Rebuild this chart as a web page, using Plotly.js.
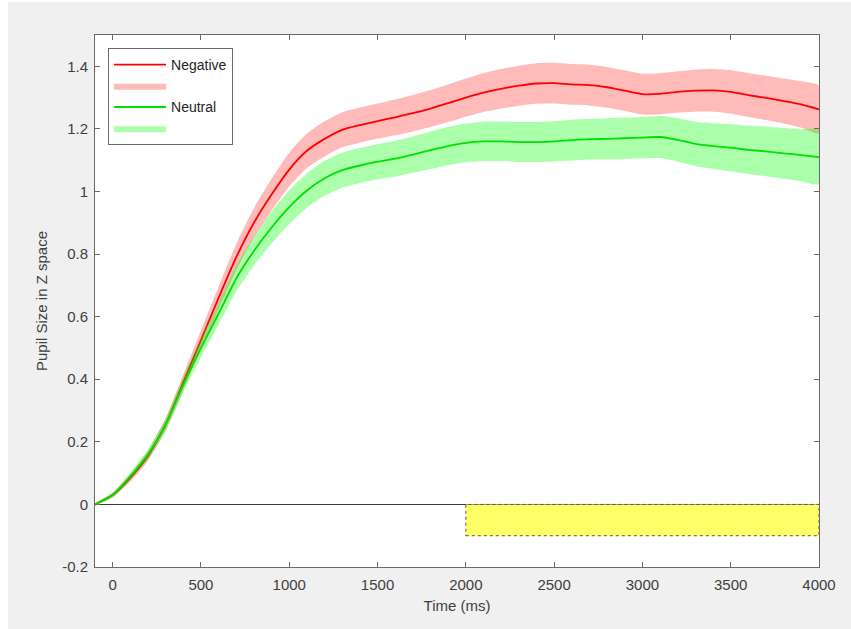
<!DOCTYPE html>
<html>
<head>
<meta charset="utf-8">
<script src="https://cdn.plot.ly/plotly-3.0.1.min.js"></script>
<style>
  html, body { margin: 0; padding: 0; background: #ffffff; }
  #chart { position: absolute; left: 8px; top: 2px; width: 843px; height: 627px; }
</style>
</head>
<body>
<div id="chart"></div>
<script>
// Time axis (ms)
var time = [-100, 0, 100, 200, 300, 400, 500, 600, 700, 800, 900, 1000,
  1100, 1200, 1300, 1400, 1500, 1600, 1700, 1800, 1900, 2000,
  2100, 2200, 2300, 2400, 2500, 2600, 2700, 2800, 2900, 3000,
  3100, 3200, 3300, 3400, 3500, 3600, 3700, 3800, 3900, 4000];

// Negative condition: mean pupil size (Z) and SEM half-width
var negativeMean = [0.0, 0.03, 0.085, 0.155, 0.255, 0.39, 0.525, 0.66, 0.79, 0.9, 0.99, 1.07,
  1.13, 1.168, 1.197, 1.212, 1.225, 1.237, 1.25, 1.265, 1.282, 1.3,
  1.316, 1.328, 1.338, 1.345, 1.346, 1.342, 1.34, 1.333, 1.322, 1.311,
  1.312, 1.318, 1.322, 1.323, 1.318, 1.308, 1.299, 1.289, 1.278, 1.262];
var negativeSem = [0.004, 0.008, 0.012, 0.016, 0.02, 0.025, 0.03, 0.036, 0.042, 0.047, 0.051, 0.054,
  0.055, 0.056, 0.056, 0.056, 0.056, 0.057, 0.058, 0.059, 0.06, 0.061,
  0.062, 0.063, 0.064, 0.065, 0.065, 0.065, 0.065, 0.065, 0.065, 0.065,
  0.066, 0.066, 0.067, 0.068, 0.069, 0.07, 0.071, 0.072, 0.074, 0.076];

// Neutral condition: mean pupil size (Z) and SEM half-width
var neutralMean = [0.0, 0.03, 0.09, 0.16, 0.255, 0.382, 0.5, 0.61, 0.722, 0.81, 0.885, 0.95,
  1.003, 1.042, 1.068, 1.083, 1.095, 1.105, 1.118, 1.132, 1.145, 1.155,
  1.16, 1.16, 1.158, 1.158, 1.16, 1.164, 1.167, 1.168, 1.17, 1.172,
  1.174, 1.165, 1.152, 1.145, 1.14, 1.133, 1.128, 1.122, 1.116, 1.11];
var neutralSem = [0.004, 0.008, 0.012, 0.016, 0.02, 0.025, 0.03, 0.036, 0.042, 0.047, 0.051, 0.054,
  0.055, 0.056, 0.056, 0.056, 0.056, 0.057, 0.058, 0.06, 0.061, 0.062,
  0.063, 0.063, 0.064, 0.064, 0.064, 0.065, 0.065, 0.066, 0.066, 0.066,
  0.067, 0.069, 0.071, 0.073, 0.075, 0.077, 0.079, 0.081, 0.083, 0.086];

// Highlighted interval (yellow bar)
var highlightX = [2000, 4000];
var highlightY = [-0.1, 0];

var xTickVals = [0, 500, 1000, 1500, 2000, 2500, 3000, 3500, 4000];
var xTickText = ['0', '500', '1000', '1500', '2000', '2500', '3000', '3500', '4000'];
var yTickVals = [-0.2, 0, 0.2, 0.4, 0.6, 0.8, 1, 1.2, 1.4];
var yTickText = ['-0.2', '0', '0.2', '0.4', '0.6', '0.8', '1', '1.2', '1.4'];

function band(mean, sem) {
  var xs = [], ys = [];
  for (var i = 0; i < time.length; i++) { xs.push(time[i]); ys.push(mean[i] + sem[i]); }
  for (var j = time.length - 1; j >= 0; j--) { xs.push(time[j]); ys.push(mean[j] - sem[j]); }
  return {x: xs, y: ys};
}

var nb = band(negativeMean, negativeSem);
var ub = band(neutralMean, neutralSem);

var traces = [
  {x: nb.x, y: nb.y, type: 'scatter', mode: 'lines', fill: 'toself',
   fillcolor: 'rgba(255,0,0,0.27)', line: {width: 0, color: 'rgba(0,0,0,0)', shape: 'spline', smoothing: 0.6},
   name: ' ', legendrank: 2, hoverinfo: 'skip'},
  {x: time, y: negativeMean, type: 'scatter', mode: 'lines',
   line: {color: '#ff0000', width: 1.8, shape: 'spline', smoothing: 0.6},
   name: 'Negative', legendrank: 1},
  {x: ub.x, y: ub.y, type: 'scatter', mode: 'lines', fill: 'toself',
   fillcolor: 'rgba(0,255,0,0.33)', line: {width: 0, color: 'rgba(0,0,0,0)', shape: 'spline', smoothing: 0.6},
   name: '  ', legendrank: 4, hoverinfo: 'skip'},
  {x: time, y: neutralMean, type: 'scatter', mode: 'lines',
   line: {color: '#00e000', width: 1.8, shape: 'spline', smoothing: 0.6},
   name: 'Neutral', legendrank: 3}
];

var axisColor = '#6a6a6a';
var layout = {
  width: 843, height: 627,
  paper_bgcolor: '#f0f0f0',
  plot_bgcolor: '#ffffff',
  margin: {l: 87, r: 32, t: 33, b: 62},
  font: {family: 'Liberation Sans, Arial, sans-serif', size: 15, color: '#404040'},
  showlegend: true,
  legend: {
    x: 0.018, y: 0.9756, xanchor: 'left', yanchor: 'top',
    bgcolor: '#ffffff', bordercolor: axisColor, borderwidth: 1,
    font: {size: 14, color: '#262626'},
    itemwidth: 52, tracegroupgap: 0
  },
  xaxis: {
    range: [-100, 4000],
    tickvals: xTickVals, ticktext: xTickText,
    ticks: 'inside', ticklen: 5, tickcolor: axisColor,
    showline: true, linecolor: axisColor, linewidth: 1, mirror: 'ticks',
    showgrid: false, zeroline: false,
    ticklabelstandoff: 4,
    title: {text: 'Time (ms)', font: {size: 15, color: '#404040'}, standoff: 8}
  },
  yaxis: {
    range: [-0.2, 1.5],
    tickvals: yTickVals, ticktext: yTickText,
    ticks: 'inside', ticklen: 5, tickcolor: axisColor,
    showline: true, linecolor: axisColor, linewidth: 1, mirror: 'ticks',
    showgrid: false,
    zeroline: true, zerolinecolor: '#3a3a3a', zerolinewidth: 1,
    ticklabelstandoff: 3,
    title: {text: 'Pupil Size in Z space', font: {size: 15, color: '#404040'}, standoff: 10}
  },
  shapes: [{
    type: 'rect', xref: 'x', yref: 'y',
    x0: highlightX[0], x1: highlightX[1], y0: highlightY[0], y1: highlightY[1],
    fillcolor: '#ffff66', line: {color: '#555555', width: 1, dash: 'dot'},
    layer: 'above'
  }]
};

Plotly.newPlot('chart', traces, layout, {displayModeBar: false, staticPlot: true});
</script>
</body>
</html>
